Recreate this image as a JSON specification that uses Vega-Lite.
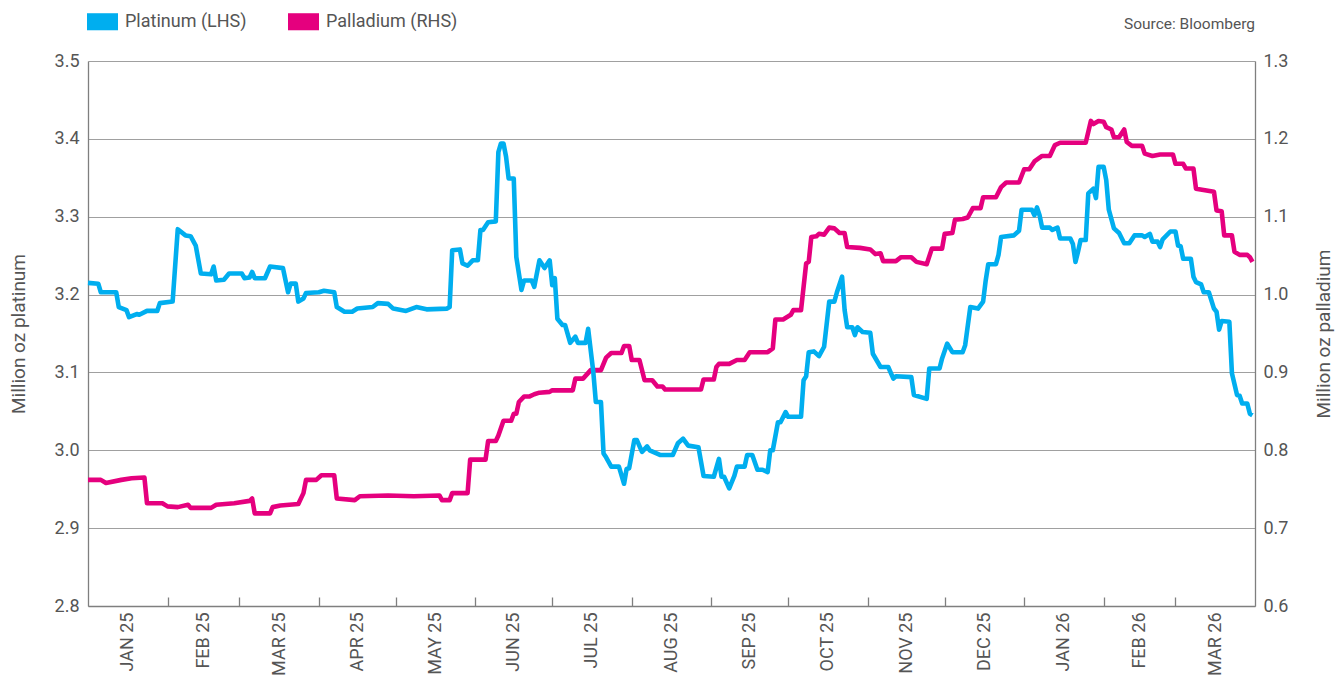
{
  "$schema": "https://vega.github.io/schema/vega-lite/v6.json",
  "width": 1167,
  "height": 545,
  "autosize": {"type": "none"},
  "padding": {"left": 88, "top": 61, "right": 80, "bottom": 78},
  "background": "white",
  "title": {"text": "Source: Bloomberg", "anchor": "end", "frame": "group", "orient": "top", "fontSize": 15.5, "fontWeight": "normal", "color": "#555555", "font": "Roboto", "offset": 0, "dy": 26},
  "config": {
    "view": {"stroke": null},
    "font": "Roboto",
    "axis": {"labelColor": "#555555", "titleColor": "#555555", "labelFont": "Roboto", "titleFont": "Roboto", "titleFontWeight": "normal", "domainColor": "#7f7f7f", "domainWidth": 1.3}
  },
  "datasets": {
    "platinum": [
      {"date":"2025-01-01","value":3.215},{"date":"2025-01-05","value":3.214},{"date":"2025-01-06","value":3.203},{"date":"2025-01-12","value":3.203},{"date":"2025-01-13","value":3.184},{"date":"2025-01-16","value":3.180},{"date":"2025-01-17","value":3.171},{"date":"2025-01-20","value":3.175},{"date":"2025-01-21","value":3.174},{"date":"2025-01-24","value":3.179},{"date":"2025-01-28","value":3.179},{"date":"2025-01-29","value":3.189},
      {"date":"2025-02-03","value":3.191},{"date":"2025-02-05","value":3.284},{"date":"2025-02-08","value":3.276},{"date":"2025-02-10","value":3.275},{"date":"2025-02-12","value":3.263},{"date":"2025-02-14","value":3.227},{"date":"2025-02-18","value":3.226},{"date":"2025-02-19","value":3.236},{"date":"2025-02-20","value":3.218},{"date":"2025-02-23","value":3.219},{"date":"2025-02-25","value":3.227},
      {"date":"2025-03-02","value":3.227},{"date":"2025-03-03","value":3.221},{"date":"2025-03-05","value":3.222},{"date":"2025-03-06","value":3.229},{"date":"2025-03-07","value":3.221},{"date":"2025-03-11","value":3.221},{"date":"2025-03-13","value":3.236},{"date":"2025-03-18","value":3.234},{"date":"2025-03-20","value":3.203},{"date":"2025-03-21","value":3.214},{"date":"2025-03-23","value":3.214},{"date":"2025-03-24","value":3.191},{"date":"2025-03-26","value":3.195},{"date":"2025-03-27","value":3.202},
      {"date":"2025-04-01","value":3.203},{"date":"2025-04-03","value":3.205},{"date":"2025-04-07","value":3.203},{"date":"2025-04-08","value":3.184},{"date":"2025-04-11","value":3.178},{"date":"2025-04-14","value":3.178},{"date":"2025-04-16","value":3.182},{"date":"2025-04-22","value":3.184},{"date":"2025-04-24","value":3.189},{"date":"2025-04-28","value":3.188},{"date":"2025-04-30","value":3.182},
      {"date":"2025-05-05","value":3.179},{"date":"2025-05-09","value":3.184},{"date":"2025-05-13","value":3.181},{"date":"2025-05-21","value":3.182},{"date":"2025-05-22","value":3.184},{"date":"2025-05-23","value":3.257},{"date":"2025-05-26","value":3.258},{"date":"2025-05-27","value":3.240},{"date":"2025-05-29","value":3.237},{"date":"2025-05-31","value":3.244},
      {"date":"2025-06-02","value":3.244},{"date":"2025-06-03","value":3.283},{"date":"2025-06-04","value":3.283},{"date":"2025-06-06","value":3.293},{"date":"2025-06-09","value":3.294},{"date":"2025-06-10","value":3.383},{"date":"2025-06-11","value":3.394},{"date":"2025-06-12","value":3.394},{"date":"2025-06-13","value":3.377},{"date":"2025-06-14","value":3.349},{"date":"2025-06-16","value":3.349},{"date":"2025-06-17","value":3.248},{"date":"2025-06-19","value":3.206},{"date":"2025-06-20","value":3.218},{"date":"2025-06-23","value":3.218},{"date":"2025-06-24","value":3.210},{"date":"2025-06-26","value":3.244},{"date":"2025-06-28","value":3.234},{"date":"2025-06-30","value":3.244},
      {"date":"2025-07-01","value":3.212},{"date":"2025-07-02","value":3.221},{"date":"2025-07-03","value":3.169},{"date":"2025-07-05","value":3.161},{"date":"2025-07-06","value":3.161},{"date":"2025-07-08","value":3.138},{"date":"2025-07-10","value":3.146},{"date":"2025-07-11","value":3.138},{"date":"2025-07-14","value":3.138},{"date":"2025-07-15","value":3.156},{"date":"2025-07-17","value":3.101},{"date":"2025-07-18","value":3.062},{"date":"2025-07-20","value":3.062},{"date":"2025-07-21","value":2.996},{"date":"2025-07-22","value":2.991},{"date":"2025-07-24","value":2.979},{"date":"2025-07-27","value":2.979},{"date":"2025-07-29","value":2.957},{"date":"2025-07-30","value":2.976},{"date":"2025-07-31","value":2.977},
      {"date":"2025-08-02","value":3.013},{"date":"2025-08-03","value":3.013},{"date":"2025-08-05","value":2.998},{"date":"2025-08-07","value":3.005},{"date":"2025-08-08","value":3.000},{"date":"2025-08-12","value":2.994},{"date":"2025-08-17","value":2.994},{"date":"2025-08-19","value":3.009},{"date":"2025-08-21","value":3.015},{"date":"2025-08-23","value":3.006},{"date":"2025-08-27","value":3.004},{"date":"2025-08-29","value":2.967},
      {"date":"2025-09-02","value":2.966},{"date":"2025-09-04","value":2.989},{"date":"2025-09-05","value":2.966},{"date":"2025-09-06","value":2.966},{"date":"2025-09-08","value":2.951},{"date":"2025-09-10","value":2.967},{"date":"2025-09-11","value":2.979},{"date":"2025-09-14","value":2.979},{"date":"2025-09-15","value":2.994},{"date":"2025-09-17","value":2.994},{"date":"2025-09-19","value":2.975},{"date":"2025-09-21","value":2.975},{"date":"2025-09-23","value":2.972},{"date":"2025-09-24","value":3.000},{"date":"2025-09-25","value":3.000},{"date":"2025-09-27","value":3.036},{"date":"2025-09-28","value":3.036},{"date":"2025-09-30","value":3.049},
      {"date":"2025-10-01","value":3.043},{"date":"2025-10-06","value":3.043},{"date":"2025-10-07","value":3.090},{"date":"2025-10-08","value":3.095},{"date":"2025-10-09","value":3.126},{"date":"2025-10-11","value":3.127},{"date":"2025-10-13","value":3.121},{"date":"2025-10-15","value":3.133},{"date":"2025-10-17","value":3.191},{"date":"2025-10-19","value":3.191},{"date":"2025-10-20","value":3.203},{"date":"2025-10-22","value":3.223},{"date":"2025-10-23","value":3.180},{"date":"2025-10-24","value":3.158},{"date":"2025-10-26","value":3.158},{"date":"2025-10-27","value":3.148},{"date":"2025-10-28","value":3.158},{"date":"2025-10-30","value":3.152},
      {"date":"2025-11-02","value":3.151},{"date":"2025-11-03","value":3.124},{"date":"2025-11-06","value":3.107},{"date":"2025-11-09","value":3.107},{"date":"2025-11-11","value":3.092},{"date":"2025-11-12","value":3.095},{"date":"2025-11-18","value":3.094},{"date":"2025-11-19","value":3.071},{"date":"2025-11-24","value":3.066},{"date":"2025-11-25","value":3.105},{"date":"2025-11-29","value":3.105},{"date":"2025-11-30","value":3.118},
      {"date":"2025-12-02","value":3.137},{"date":"2025-12-04","value":3.126},{"date":"2025-12-08","value":3.126},{"date":"2025-12-09","value":3.135},{"date":"2025-12-11","value":3.184},{"date":"2025-12-14","value":3.182},{"date":"2025-12-16","value":3.191},{"date":"2025-12-17","value":3.218},{"date":"2025-12-18","value":3.239},{"date":"2025-12-21","value":3.239},{"date":"2025-12-22","value":3.251},{"date":"2025-12-23","value":3.274},{"date":"2025-12-28","value":3.276},{"date":"2025-12-30","value":3.282},{"date":"2025-12-31","value":3.309},
      {"date":"2026-01-04","value":3.309},{"date":"2026-01-05","value":3.302},{"date":"2026-01-06","value":3.312},{"date":"2026-01-07","value":3.302},{"date":"2026-01-08","value":3.286},{"date":"2026-01-11","value":3.286},{"date":"2026-01-12","value":3.283},{"date":"2026-01-14","value":3.286},{"date":"2026-01-15","value":3.272},{"date":"2026-01-19","value":3.272},{"date":"2026-01-20","value":3.265},{"date":"2026-01-21","value":3.242},{"date":"2026-01-22","value":3.255},{"date":"2026-01-23","value":3.270},{"date":"2026-01-25","value":3.270},{"date":"2026-01-26","value":3.330},{"date":"2026-01-28","value":3.336},{"date":"2026-01-29","value":3.324},{"date":"2026-01-30","value":3.364},
      {"date":"2026-02-01","value":3.364},{"date":"2026-02-02","value":3.347},{"date":"2026-02-03","value":3.309},{"date":"2026-02-05","value":3.285},{"date":"2026-02-07","value":3.279},{"date":"2026-02-09","value":3.266},{"date":"2026-02-11","value":3.266},{"date":"2026-02-13","value":3.276},{"date":"2026-02-16","value":3.276},{"date":"2026-02-17","value":3.274},{"date":"2026-02-19","value":3.278},{"date":"2026-02-20","value":3.268},{"date":"2026-02-22","value":3.268},{"date":"2026-02-23","value":3.261},{"date":"2026-02-24","value":3.271},{"date":"2026-02-27","value":3.281},
      {"date":"2026-03-01","value":3.281},{"date":"2026-03-02","value":3.263},{"date":"2026-03-03","value":3.262},{"date":"2026-03-04","value":3.246},{"date":"2026-03-07","value":3.246},{"date":"2026-03-08","value":3.223},{"date":"2026-03-09","value":3.216},{"date":"2026-03-11","value":3.213},{"date":"2026-03-12","value":3.203},{"date":"2026-03-14","value":3.203},{"date":"2026-03-16","value":3.182},{"date":"2026-03-17","value":3.178},{"date":"2026-03-18","value":3.155},{"date":"2026-03-19","value":3.166},{"date":"2026-03-22","value":3.165},{"date":"2026-03-23","value":3.099},{"date":"2026-03-25","value":3.071},{"date":"2026-03-26","value":3.070},{"date":"2026-03-27","value":3.060},{"date":"2026-03-29","value":3.060},{"date":"2026-03-30","value":3.047},{"date":"2026-03-31","value":3.045}
    ],
    "palladium": [
      {"date":"2025-01-01","value":0.762},{"date":"2025-01-06","value":0.762},{"date":"2025-01-08","value":0.758},{"date":"2025-01-14","value":0.762},{"date":"2025-01-18","value":0.764},{"date":"2025-01-23","value":0.765},{"date":"2025-01-24","value":0.732},{"date":"2025-01-30","value":0.732},
      {"date":"2025-02-01","value":0.728},{"date":"2025-02-05","value":0.727},{"date":"2025-02-09","value":0.730},{"date":"2025-02-10","value":0.726},{"date":"2025-02-18","value":0.726},{"date":"2025-02-20","value":0.730},{"date":"2025-02-27","value":0.732},
      {"date":"2025-03-05","value":0.735},{"date":"2025-03-06","value":0.738},{"date":"2025-03-07","value":0.719},{"date":"2025-03-13","value":0.719},{"date":"2025-03-14","value":0.727},{"date":"2025-03-17","value":0.729},{"date":"2025-03-24","value":0.731},{"date":"2025-03-26","value":0.745},{"date":"2025-03-27","value":0.762},{"date":"2025-03-31","value":0.762},
      {"date":"2025-04-02","value":0.768},{"date":"2025-04-07","value":0.768},{"date":"2025-04-08","value":0.738},{"date":"2025-04-15","value":0.736},{"date":"2025-04-17","value":0.741},{"date":"2025-04-28","value":0.742},
      {"date":"2025-05-08","value":0.741},{"date":"2025-05-18","value":0.742},{"date":"2025-05-19","value":0.736},{"date":"2025-05-22","value":0.736},{"date":"2025-05-23","value":0.745},{"date":"2025-05-29","value":0.745},{"date":"2025-05-30","value":0.788},
      {"date":"2025-06-05","value":0.788},{"date":"2025-06-06","value":0.812},{"date":"2025-06-09","value":0.812},{"date":"2025-06-10","value":0.819},{"date":"2025-06-12","value":0.838},{"date":"2025-06-15","value":0.838},{"date":"2025-06-16","value":0.847},{"date":"2025-06-17","value":0.847},{"date":"2025-06-18","value":0.862},{"date":"2025-06-20","value":0.869},{"date":"2025-06-22","value":0.869},{"date":"2025-06-24","value":0.872},{"date":"2025-06-26","value":0.874},{"date":"2025-06-30","value":0.875},
      {"date":"2025-07-01","value":0.877},{"date":"2025-07-09","value":0.877},{"date":"2025-07-10","value":0.892},{"date":"2025-07-13","value":0.892},{"date":"2025-07-16","value":0.903},{"date":"2025-07-20","value":0.903},{"date":"2025-07-22","value":0.919},{"date":"2025-07-24","value":0.925},{"date":"2025-07-28","value":0.925},{"date":"2025-07-29","value":0.934},{"date":"2025-07-31","value":0.934},
      {"date":"2025-08-01","value":0.916},{"date":"2025-08-04","value":0.916},{"date":"2025-08-06","value":0.890},{"date":"2025-08-09","value":0.890},{"date":"2025-08-11","value":0.882},{"date":"2025-08-13","value":0.882},{"date":"2025-08-14","value":0.878},{"date":"2025-08-28","value":0.878},{"date":"2025-08-29","value":0.891},
      {"date":"2025-09-02","value":0.891},{"date":"2025-09-03","value":0.907},{"date":"2025-09-04","value":0.911},{"date":"2025-09-08","value":0.911},{"date":"2025-09-11","value":0.916},{"date":"2025-09-14","value":0.916},{"date":"2025-09-16","value":0.926},{"date":"2025-09-23","value":0.926},{"date":"2025-09-25","value":0.931},{"date":"2025-09-26","value":0.968},{"date":"2025-09-29","value":0.968},
      {"date":"2025-10-02","value":0.974},{"date":"2025-10-03","value":0.980},{"date":"2025-10-06","value":0.980},{"date":"2025-10-08","value":1.040},{"date":"2025-10-09","value":1.042},{"date":"2025-10-10","value":1.074},{"date":"2025-10-12","value":1.075},{"date":"2025-10-13","value":1.078},{"date":"2025-10-15","value":1.077},{"date":"2025-10-17","value":1.086},{"date":"2025-10-19","value":1.085},{"date":"2025-10-21","value":1.079},{"date":"2025-10-23","value":1.079},{"date":"2025-10-24","value":1.061},{"date":"2025-10-29","value":1.060},
      {"date":"2025-11-02","value":1.058},{"date":"2025-11-04","value":1.052},{"date":"2025-11-06","value":1.053},{"date":"2025-11-07","value":1.043},{"date":"2025-11-12","value":1.043},{"date":"2025-11-14","value":1.048},{"date":"2025-11-18","value":1.048},{"date":"2025-11-20","value":1.042},{"date":"2025-11-24","value":1.039},{"date":"2025-11-26","value":1.059},{"date":"2025-11-30","value":1.059},
      {"date":"2025-12-01","value":1.078},{"date":"2025-12-04","value":1.079},{"date":"2025-12-05","value":1.096},{"date":"2025-12-08","value":1.097},{"date":"2025-12-10","value":1.099},{"date":"2025-12-12","value":1.111},{"date":"2025-12-15","value":1.111},{"date":"2025-12-16","value":1.125},{"date":"2025-12-21","value":1.125},{"date":"2025-12-23","value":1.138},{"date":"2025-12-25","value":1.144},{"date":"2025-12-30","value":1.144},
      {"date":"2026-01-01","value":1.161},{"date":"2026-01-03","value":1.161},{"date":"2026-01-05","value":1.171},{"date":"2026-01-08","value":1.178},{"date":"2026-01-11","value":1.178},{"date":"2026-01-13","value":1.192},{"date":"2026-01-15","value":1.195},{"date":"2026-01-25","value":1.195},{"date":"2026-01-27","value":1.223},{"date":"2026-01-28","value":1.219},{"date":"2026-01-30","value":1.223},
      {"date":"2026-02-01","value":1.222},{"date":"2026-02-02","value":1.215},{"date":"2026-02-04","value":1.212},{"date":"2026-02-05","value":1.202},{"date":"2026-02-07","value":1.202},{"date":"2026-02-09","value":1.212},{"date":"2026-02-10","value":1.196},{"date":"2026-02-12","value":1.191},{"date":"2026-02-16","value":1.191},{"date":"2026-02-17","value":1.181},{"date":"2026-02-20","value":1.178},{"date":"2026-02-23","value":1.180},{"date":"2026-02-28","value":1.180},
      {"date":"2026-03-01","value":1.168},{"date":"2026-03-04","value":1.168},{"date":"2026-03-05","value":1.162},{"date":"2026-03-08","value":1.162},{"date":"2026-03-09","value":1.136},{"date":"2026-03-16","value":1.132},{"date":"2026-03-17","value":1.108},{"date":"2026-03-19","value":1.107},{"date":"2026-03-20","value":1.076},{"date":"2026-03-23","value":1.076},{"date":"2026-03-24","value":1.055},{"date":"2026-03-26","value":1.051},{"date":"2026-03-29","value":1.051},{"date":"2026-03-30","value":1.048},{"date":"2026-03-31","value":1.042}
    ]
  },
  "encoding": {
    "x": {
      "field": "date",
      "type": "temporal",
      "scale": {"type": "utc", "nice": false, "domain": [{"year": 2025, "month": 1, "date": 1, "utc": true}, {"year": 2026, "month": 4, "date": 1, "utc": true}]},
      "axis": {
        "title": null,
        "grid": false,
        "values": [
          {"year":2025,"month":1,"date":16,"hours":12,"utc":true},{"year":2025,"month":2,"date":1,"utc":true},
          {"year":2025,"month":2,"date":15,"utc":true},{"year":2025,"month":3,"date":1,"utc":true},
          {"year":2025,"month":3,"date":16,"hours":12,"utc":true},{"year":2025,"month":4,"date":1,"utc":true},
          {"year":2025,"month":4,"date":16,"utc":true},{"year":2025,"month":5,"date":1,"utc":true},
          {"year":2025,"month":5,"date":16,"hours":12,"utc":true},{"year":2025,"month":6,"date":1,"utc":true},
          {"year":2025,"month":6,"date":16,"utc":true},{"year":2025,"month":7,"date":1,"utc":true},
          {"year":2025,"month":7,"date":16,"hours":12,"utc":true},{"year":2025,"month":8,"date":1,"utc":true},
          {"year":2025,"month":8,"date":16,"hours":12,"utc":true},{"year":2025,"month":9,"date":1,"utc":true},
          {"year":2025,"month":9,"date":16,"utc":true},{"year":2025,"month":10,"date":1,"utc":true},
          {"year":2025,"month":10,"date":16,"hours":12,"utc":true},{"year":2025,"month":11,"date":1,"utc":true},
          {"year":2025,"month":11,"date":16,"utc":true},{"year":2025,"month":12,"date":1,"utc":true},
          {"year":2025,"month":12,"date":16,"hours":12,"utc":true},{"year":2026,"month":1,"date":1,"utc":true},
          {"year":2026,"month":1,"date":16,"hours":12,"utc":true},{"year":2026,"month":2,"date":1,"utc":true},
          {"year":2026,"month":2,"date":15,"utc":true},{"year":2026,"month":3,"date":1,"utc":true},
          {"year":2026,"month":3,"date":16,"hours":12,"utc":true}
        ],
        "labelExpr": "utcdate(datum.value) === 1 ? '' : upper(utcFormat(datum.value, '%b %y'))",
        "tickOpacity": {"condition": {"test": "utcdate(datum.value) !== 1", "value": 0}, "value": 1},
        "tickSize": -9,
        "tickColor": "#7f7f7f",
        "tickWidth": 1.3,
        "labelAngle": 270,
        "labelAlign": "right",
        "labelBaseline": "middle",
        "labelFontSize": 18,
        "labelPadding": 15,
        "labelOverlap": false,
        "labelFlush": false
      }
    }
  },
  "layer": [
    {
      "data": {"name": "palladium"},
      "mark": {"type": "line", "strokeWidth": 4.6, "strokeJoin": "round"},
      "encoding": {
        "y": {
          "field": "value", "type": "quantitative",
          "scale": {"domain": [0.6, 1.3], "nice": false, "zero": false},
          "axis": {"orient": "right", "title": "Million oz palladium", "titleAngle": 270, "titleFontSize": 19, "titlePadding": 46, "values": [0.6, 0.7, 0.8, 0.9, 1.0, 1.1, 1.2, 1.3], "format": ".1f", "labelFontSize": 18, "labelPadding": 8, "ticks": false, "grid": false}
        },
        "color": {
          "datum": "Palladium (RHS)",
          "type": "nominal",
          "scale": {"domain": ["Platinum (LHS)", "Palladium (RHS)"], "range": ["#00AEEF", "#E5007E"]},
          "legend": {
            "orient": "none", "legendX": -1, "legendY": -55, "direction": "horizontal", "title": null,
            "symbolType": "M-1,-0.55H1V0.55H-1Z", "symbolSize": 961, "symbolStrokeWidth": 0,
            "labelFontSize": 18, "labelColor": "#555555", "labelFont": "Roboto", "labelOffset": 7, "columnPadding": 41, "padding": 0,
            "encode": {"symbols": {"update": {"fill": {"scale": "color", "field": "value"}, "fillOpacity": {"value": 1}, "strokeWidth": {"value": 0}}}}
          }
        }
      }
    },
    {
      "data": {"name": "platinum"},
      "mark": {"type": "line", "strokeWidth": 4.6, "strokeJoin": "round"},
      "encoding": {
        "y": {
          "field": "value", "type": "quantitative",
          "scale": {"domain": [2.8, 3.5], "nice": false, "zero": false},
          "axis": {"orient": "left", "title": "Million oz platinum", "titleFontSize": 19, "titlePadding": 26, "values": [2.8, 2.9, 3.0, 3.1, 3.2, 3.3, 3.4, 3.5], "format": ".1f", "labelFontSize": 18, "labelPadding": 9, "ticks": false, "grid": true, "gridColor": "#a0a0a0", "gridWidth": 1.2}
        },
        "color": {"datum": "Platinum (LHS)", "type": "nominal"}
      }
    }
  ],
  "resolve": {"scale": {"y": "independent"}}
}
